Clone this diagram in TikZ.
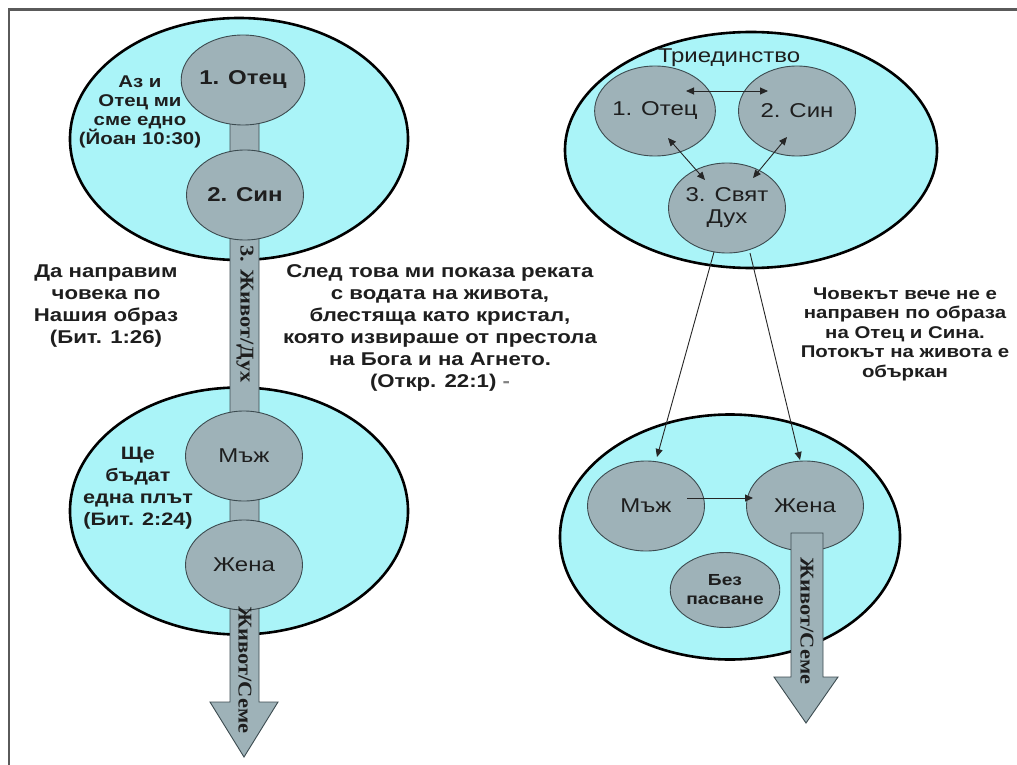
\documentclass[tikz,border=0pt]{standalone}
\usepackage{fontspec}
\setmainfont{Liberation Sans}[FakeStretch=1.2]
\newfontfamily\stemfont{Liberation Serif}[FakeStretch=1.15]
\usetikzlibrary{shapes.geometric,arrows.meta,calc}
\definecolor{sky}{RGB}{170,244,248}
\definecolor{pgrey}{RGB}{158,178,184}
\definecolor{edgec}{RGB}{60,75,80}
\definecolor{framec}{RGB}{90,90,90}
\definecolor{txt}{RGB}{30,30,30}
\begin{document}
\begin{tikzpicture}[x=1pt,y=-1pt,
  bigell/.style={ellipse, draw=black, line width=2.6pt, fill=sky, inner sep=0},
  pers/.style={ellipse, draw=edgec, line width=0.9pt, fill=pgrey, minimum width=117pt, minimum height=90pt, inner sep=0, font=\fontsize{20}{22}\selectfont, text=txt, align=center},
  boldpers/.style={pers, font=\bfseries\fontsize{20}{22}\selectfont},
  stemshape/.style={fill=pgrey, draw=edgec, line width=0.9pt},
  stemtext/.style={rotate=-90, inner sep=0, text=txt, font=\stemfont\bfseries\fontsize{19.5}{21}\selectfont},
  note/.style={align=center, text=txt, inner sep=0},
  conn/.style={draw=black!85, line width=0.9pt},
  tip/.style={-{Triangle[length=8pt,width=7pt]}},
  dtip/.style={{Triangle[length=8pt,width=7pt]}-{Triangle[length=8pt,width=7pt]}},
]
\useasboundingbox (0,0) rectangle (1017,765);
\fill[white] (0,0) rectangle (1017,765);
% frame
\draw[framec, line width=2.8pt] (1017,9.5) -- (9,9.5) -- (9,765);

% ---------- left side ----------
\node[bigell, minimum width=338pt, minimum height=242pt] (eul) at (239,139) {};
\node[bigell, minimum width=338pt, minimum height=247pt] (ell) at (239,511) {};
\path[stemshape] (230,100) -- (230,702) -- (210,702) -- (244,757) -- (278,702) -- (259,702) -- (259,100) -- cycle;
\node[boldpers] (c1) at (243,80) {1. Отец};
\node[boldpers] (c2) at (245,195) {2. Син};
\node[pers] (m1) at (244,456) {Мъж};
\node[pers] (f1) at (244,565) {Жена};
\node[stemtext] (s1) at (245,314) {3. Живот/Дух};
\node[stemtext] (s2) at (245,670) {Живот/Семе};

\node[note, font=\bfseries\fontsize{17}{19}\selectfont] (t1) at (140,112) {Аз и\\Отец ми\\сме едно\\(Йоан 10:30)};
\node[note, font=\bfseries\fontsize{18.5}{22}\selectfont] (t2) at (106,306) {Да направим\\човека по\\Нашия образ\\(Бит. 1:26)};
\node[note, font=\bfseries\fontsize{18.5}{22}\selectfont] (t3) at (440,328) {След това ми показа реката\\с водата на живота,\\блестяща като кристал,\\която извираше от престола\\на Бога и на Агнето.\\(Откр. 22:1) {\color{gray}-}};
\node[note, font=\bfseries\fontsize{18}{22}\selectfont] (t4) at (138,488) {Ще\\бъдат\\една плът\\(Бит. 2:24)};

% ---------- right side ----------
\node[bigell, minimum width=372pt, minimum height=236pt] (eur) at (751,150) {};
\node[bigell, minimum width=340pt, minimum height=245pt] (elr) at (730,537) {};
\node[note, font=\fontsize{20}{22}\selectfont] (t6) at (729,58) {Триединство};
\node[pers] (r1) at (655,111) {1. Отец};
\node[pers] (r2) at (797,111) {2. Син};
\node[pers] (r3) at (727,208) {3. Свят\\Дух};
\node[pers] (m2) at (646,506) {Мъж};
\node[pers] (f2) at (805,506) {Жена};
\node[pers, minimum width=95pt, minimum height=75pt, font=\bfseries\fontsize{16}{19}\selectfont] (nb) at (725,590) {Без\\пасване};
\path[stemshape] (791,533) -- (791,677) -- (774,677) -- (806,723) -- (838,677) -- (823,677) -- (823,533) -- cycle;
\node[stemtext] (s3) at (807,621) {Живот/Семе};

\node[note, font=\bfseries\fontsize{17}{19.5}\selectfont] (t5) at (905,334) {Човекът вече не е\\направен по образа\\на Отец и Сина.\\Потокът на живота е\\объркан};

% connectors
\draw[conn, dtip] ([shift={(31,-20)}]r1.center) -- ([shift={(-29,-20)}]r2.center);
\draw[conn, dtip] ([shift={(13,27)}]r1.center) -- ([shift={(-22,-28)}]r3.center);
\draw[conn, dtip] ([shift={(-10,26)}]r2.center) -- ([shift={(26,-30)}]r3.center);
\draw[conn, tip] ([shift={(-13,44)}]r3.center) -- ([shift={(11,-49)}]m2.center);
\draw[conn, tip] ([shift={(23,45)}]r3.center) -- ([shift={(-5,-46)}]f2.center);
\draw[conn, tip] ([shift={(41,-8)}]m2.center) -- ([shift={(-52,-8)}]f2.center);
\end{tikzpicture}
\end{document}
